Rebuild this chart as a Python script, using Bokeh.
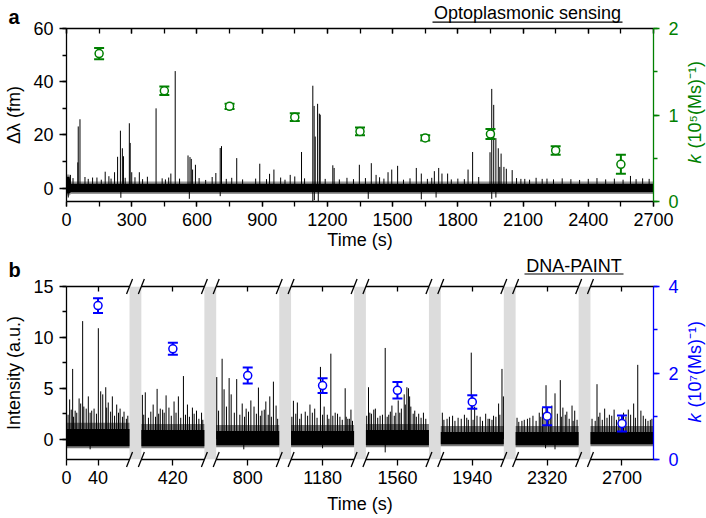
import math
from bokeh.plotting import figure
from bokeh.layouts import column
from bokeh.models import LinearAxis, Range1d, SingleIntervalTicker, FixedTicker
from bokeh.core.properties import value
from bokeh.embed import file_html
from bokeh.resources import INLINE

FONT = "Liberation Sans"
GREEN = "#008000"
BLUE = "#0000ff"
GAP_FILL = "#dcdcdc"

# ---------------- Panel a data (optoplasmonic sensing) ----------------
a_env_t = [0, 14, 20, 2700]
a_env_hi = [4.3, 4.3, 1.7, 1.7]
a_env_lo = [-2.0, -2.0, -1.5, -1.5]

a_spike_t = [54, 62, 52, 18, 120, 178, 221, 235, 248, 257, 262, 289, 293, 300, 335,
             412, 480, 500, 559, 568, 574, 580, 593, 687, 707, 713, 783, 889, 934,
             954, 1029, 1081, 1133, 1139, 1144, 1155, 1163, 1167, 1225, 1231, 1347,
             1402, 1424, 1479, 1496, 1523, 1609, 1632, 1692, 1712, 1727, 1753, 1847,
             1868, 1896, 1948, 1956, 1965, 1975, 1986, 1993, 1999, 2012, 2023, 2050,
             2108, 2188, 2594]
a_spike_v = [23.2, 25.9, 9.7, 5.0, 4.0, 6.2, 6.0, 11.8, 21.6, 15.0, 12.0, 24.4, 17.0, 6.0, 6.0,
             30.0, 5.5, 44.0, 12.3, 11.7, 11.0, 7.0, 8.8, 5.7, 15.1, 15.8, 11.3, 9.2, 5.4,
             7.0, 5.0, 13.6, 38.5, 30.9, 19.4, 31.7, 28.0, 27.6, 8.6, 7.6, 8.8,
             9.4, 5.0, 6.0, 7.0, 8.4, 7.6, 5.5, 6.4, 7.6, 5.5, 5.5, 7.0,
             13.6, 4.2, 13.5, 37.3, 31.3, 18.8, 15.0, 8.0, 13.0, 8.0, 7.3, 6.8,
             3.5, 3.5, 4.6]
a_small_t = [30, 85, 100, 140, 160, 195, 205, 270, 315, 350, 372, 440, 455, 470, 520,
             610, 640, 670, 735, 760, 810, 870, 920, 985, 1005, 1050, 1095, 1190, 1255,
             1290, 1320, 1375, 1440, 1460, 1550, 1580, 1660, 1680, 1770, 1800, 1830,
             2070, 2090, 2130, 2160, 2210, 2240, 2280, 2320, 2360, 2400, 2440, 2480,
             2520, 2560, 2620, 2650, 2680]
a_small_v = [3.8, 4.2, 3.5, 4.0, 3.2, 4.5, 3.6, 3.9, 4.1, 3.4, 4.3, 3.7, 3.3, 4.0, 3.6,
             3.8, 3.1, 4.2, 3.5, 3.9, 3.3, 3.6, 3.4, 4.0, 3.2, 4.4, 3.7, 3.5, 3.3,
             3.9, 3.4, 3.8, 4.1, 3.6, 3.2, 3.7, 3.5, 3.9, 3.3, 3.6, 3.4,
             3.8, 3.5, 3.2, 3.9, 3.6, 3.3, 3.7, 3.4, 3.1, 3.5, 3.8, 3.3,
             3.6, 3.2, 3.4, 3.7, 3.5]
a_dip_t = [8, 250, 565, 707, 1133, 1140, 1158, 1388, 1632, 1700, 1956, 1975]
a_dip_v = [-3.5, -3.6, -4.0, -3.0, -5.0, -4.5, -5.0, -4.0, -4.2, -3.5, -4.0, -3.5]

a_k_t = [150, 450, 750, 1050, 1350, 1650, 1950, 2250, 2550]
a_k = [1.71, 1.28, 1.10, 0.975, 0.81, 0.735, 0.78, 0.59, 0.43]
a_k_err = [0.065, 0.05, 0.03, 0.045, 0.045, 0.03, 0.058, 0.05, 0.11]

# ---------------- Panel b data (DNA-PAINT) ----------------
b_seg_start = [0, 380, 760, 1140, 1520, 1900, 2280, 2660]
b_seg_len = 80
b_gap = 15
b_band_hi = [1.0, 0.9, 0.8, 0.8, 0.9, 0.7, 0.7, 0.7]
b_band_lo = [-0.7, -0.7, -0.6, -0.6, -0.6, -0.5, -0.6, -0.5]

b_spike_t = [4, 7.8, 11, 16, 18, 20.5, 25, 27.7, 30, 35, 40.4, 43.4, 46, 49.8, 53, 58.2, 63.7, 68, 73, 77.8,
             381.3, 385, 389, 395, 400, 404, 409, 411.4, 415, 421.5, 427, 433.4, 438.5, 444.8, 450, 456.4,
             760.7, 767.5, 770, 776.4, 779, 786, 793, 798, 804, 808, 813.6, 818, 823, 828, 832.6, 836,
             1143, 1148, 1153, 1158, 1164, 1170, 1177.3, 1182, 1186, 1190.5, 1196, 1202, 1208.7, 1212, 1216,
             1523.3, 1527, 1530, 1532, 1538, 1544.5, 1549, 1553, 1558, 1561, 1565, 1568.6, 1572, 1574,
             1575.5, 1577, 1580, 1584, 1587, 1593,
             1902, 1908, 1915, 1922, 1930, 1935, 1938.7, 1943, 1950, 1957, 1962, 1967, 1973.4, 1977.7, 1979.5,
             2281.8, 2288, 2295, 2302, 2310, 2314, 2318.6, 2322, 2326, 2330, 2336.7, 2340, 2345, 2351.6, 2355,
             2668.3, 2672, 2678, 2684, 2690, 2696, 2702, 2708, 2714.8, 2720, 2724, 2730, 2736]
b_spike_v = [3.9, 6.9, 2.8, 4.0, 3.5, 11.6, 3.0, 4.2, 2.6, 3.0, 10.9, 4.7, 4.4, 5.1, 3.6, 4.2, 3.4, 3.0, 2.7, 2.3,
             4.35, 4.6, 2.1, 3.4, 4.94, 3.0, 2.6, 4.3, 3.1, 3.7, 4.2, 6.2, 3.4, 3.1, 2.8, 2.6,
             6.1, 7.9, 4.9, 6.0, 4.4, 5.9, 3.5, 3.0, 3.8, 3.2, 5.07, 2.8, 3.7, 4.2, 5.65, 3.3,
             3.77, 3.6, 2.5, 2.7, 3.4, 3.0, 7.1, 3.2, 2.4, 8.4, 2.6, 2.2, 5.0, 2.0, 2.9,
             5.1, 2.5, 2.9, 3.0, 2.3, 8.96, 2.4, 3.3, 2.6, 3.8, 3.0, 4.4, 5.1, 5.0,
             4.2, 3.2, 2.5, 2.2, 2.5, 2.6,
             2.6, 2.0, 2.3, 2.1, 2.4, 1.9, 8.5, 3.2, 2.2, 2.5, 2.0, 2.3, 3.5, 6.9, 4.2,
             2.1, 1.8, 2.0, 2.3, 2.6, 3.1, 5.3, 2.4, 3.3, 4.5, 5.8, 3.1, 2.7, 3.3, 2.8,
             5.4, 2.6, 3.0, 2.4, 2.9, 2.2, 2.6, 2.9, 3.5, 7.3, 2.8, 2.0, 1.9]
b_small_t = [2, 6, 9, 13, 22, 32, 38, 51, 56, 61, 66, 71, 76,
             383, 392, 398, 402, 407, 418, 424, 430, 436, 441, 447, 453, 458,
             763, 773, 783, 790, 796, 801, 811, 816, 821, 826, 830, 838,
             1141, 1146, 1151, 1161, 1167, 1173, 1180, 1188, 1193, 1199, 1205, 1210, 1214, 1218,
             1521, 1525, 1535, 1541, 1547, 1551, 1556, 1563, 1570, 1582, 1590, 1596,
             1904, 1911, 1918, 1926, 1933, 1941, 1946, 1953, 1960, 1965, 1970, 1975,
             2284, 2291, 2298, 2306, 2312, 2316, 2324, 2333, 2338, 2343, 2348, 2353, 2358,
             2662, 2666, 2670, 2675, 2681, 2687, 2693, 2699, 2705, 2711, 2717, 2727, 2733, 2738]
b_small_v = [2.4, 2.9, 2.2, 2.6, 3.2, 2.8, 2.5, 3.1, 2.7, 2.3, 2.6, 2.2, 2.0,
             2.4, 2.7, 2.2, 2.5, 2.9, 2.3, 2.6, 2.1, 2.4, 2.2, 2.5, 2.0, 1.9,
             2.8, 3.2, 2.6, 2.4, 2.2, 2.7, 2.5, 2.3, 2.9, 2.4, 2.2, 2.0,
             2.2, 2.5, 2.0, 2.3, 2.6, 2.1, 2.4, 2.0, 2.3, 2.5, 1.9, 2.2, 2.0, 1.8,
             2.3, 2.6, 2.1, 2.4, 2.2, 2.7, 2.3, 2.6, 3.4, 2.8, 2.1, 2.0,
             1.9, 2.2, 1.8, 2.0, 2.1, 1.9, 2.3, 1.8, 2.0, 1.9, 2.2, 2.4,
             1.7, 1.9, 2.1, 1.8, 2.2, 2.6, 2.0, 2.5, 2.2, 2.4, 2.0, 1.8, 1.9,
             2.0, 1.8, 2.2, 1.9, 2.1, 2.3, 1.9, 2.0, 2.2, 2.4, 2.1, 2.3, 1.8, 2.0]
b_dip_t = [30, 795, 1180, 1544.5, 2318, 2330]
b_dip_v = [-1.0, -1.0, -0.9, -1.3, -0.9, -1.0]

b_k_t = [40, 420, 800, 1180, 1560, 1940, 2320, 2700]
b_k = [3.56, 2.56, 1.94, 1.71, 1.60, 1.33, 1.00, 0.83]
b_k_err = [0.17, 0.14, 0.185, 0.17, 0.19, 0.155, 0.21, 0.185]
b_tick_labels = [0, 40, 420, 800, 1180, 1560, 1940, 2320, 2700]

# ---------------- layout constants ----------------
W = 706
BL, BR = 66, 53
FW = W - BL - BR
FH = 173
A_H, A_T = 254, 28
B_H, B_T = 264, 32
FS = "18px"


def style(ax, color="black", out=5, inn=0, mout=3, minn=0, labels=True, lstand=6, astand=5):
    ax.axis_line_color = color
    ax.axis_line_width = 1.3
    ax.major_tick_line_color = color
    ax.minor_tick_line_color = color
    ax.major_tick_line_width = 1.3
    ax.minor_tick_line_width = 1.3
    ax.major_tick_out = out
    ax.major_tick_in = inn
    ax.minor_tick_out = mout
    ax.minor_tick_in = minn
    ax.major_label_text_font = FONT
    if labels:
        ax.major_label_text_color = color
        ax.major_label_text_font_size = FS
        ax.major_label_standoff = lstand
    else:
        ax.major_label_text_color = None
        ax.major_label_text_font_size = "0px"
        ax.major_label_standoff = 0
    ax.axis_label_text_font = FONT
    ax.axis_label_text_font_size = FS
    ax.axis_label_text_font_style = "normal"
    ax.axis_label_text_color = color
    ax.axis_label_standoff = astand


def make_fig(h, top, xr, yr):
    p = figure(width=W, height=h, x_range=xr, y_range=yr, output_backend="svg",
               toolbar_location=None, title=None,
               min_border_left=BL, min_border_right=BR, min_border_top=top,
               min_border_bottom=h - top - FH)
    p.xgrid.visible = False
    p.ygrid.visible = False
    p.outline_line_color = None
    p.background_fill_color = "white"
    p.border_fill_color = "white"
    return p


def to_data(x0, x1, y0, y1, ftop):
    # canvas pixel -> data helper (frame starts at x=BL, y=ftop)
    def f(px, py):
        return (x0 + (px - BL) * (x1 - x0) / FW,
                y0 + (ftop + FH - py) * (y1 - y0) / FH)
    return f


def add_text(p, x, y, txt, size=FS, style="normal", color="black", align="left", angle=0.0):
    p.text(x=[x], y=[y], text=[txt], text_font=value(FONT), text_font_size=value(size),
           text_font_style=value(style), text_color=color, text_align=value(align),
           text_baseline=value("middle"), angle=angle, level="overlay")


# ================= Panel a =================
pa = make_fig(A_H, A_T, Range1d(0, 2700), Range1d(-5, 60))
pa.extra_y_ranges = {"k": Range1d(0, 2)}

xa = pa.xaxis[0]
xa.ticker = SingleIntervalTicker(interval=300, num_minor_ticks=2)
xa.axis_label = "Time (s)"
style(xa, out=5, mout=5, lstand=6, astand=1)
ya = pa.yaxis[0]
ya.ticker = SingleIntervalTicker(interval=20, num_minor_ticks=2)
ya.axis_label = "Δλ (fm)"
style(ya, out=7, mout=4, lstand=6, astand=6)
ta = LinearAxis(ticker=SingleIntervalTicker(interval=300, num_minor_ticks=2))
style(ta, out=0, inn=5, mout=0, minn=5, labels=False)
pa.add_layout(ta, "above")
ra = LinearAxis(y_range_name="k", ticker=SingleIntervalTicker(interval=1, num_minor_ticks=2))
style(ra, color=GREEN, out=6, mout=4, lstand=9)
pa.add_layout(ra, "right")

pa.varea(x=a_env_t, y1=[v - 0.7 for v in a_env_lo], y2=[v + 0.8 for v in a_env_hi],
         fill_color="#555555", fill_alpha=0.6)
pa.varea(x=a_env_t, y1=a_env_lo, y2=a_env_hi, fill_color="black")
pa.segment(x0=a_small_t, y0=[0] * len(a_small_t), x1=a_small_t, y1=a_small_v,
           line_color="black", line_width=1)
pa.segment(x0=a_spike_t, y0=[0] * len(a_spike_t), x1=a_spike_t, y1=a_spike_v,
           line_color="black", line_width=1)
pa.segment(x0=a_dip_t, y0=[0] * len(a_dip_t), x1=a_dip_t, y1=a_dip_v,
           line_color="black", line_width=1)

a_lo = [k - e for k, e in zip(a_k, a_k_err)]
a_hi = [k + e for k, e in zip(a_k, a_k_err)]
pa.segment(x0=a_k_t, y0=a_lo, x1=a_k_t, y1=a_hi, line_color=GREEN, line_width=2, y_range_name="k")
pa.scatter(x=a_k_t + a_k_t, y=a_lo + a_hi, marker="dash", size=10, line_color=GREEN,
           line_width=2, y_range_name="k")
pa.scatter(x=a_k_t, y=a_k, marker="circle", size=8, fill_color="white", line_color=GREEN,
           line_width=1.5, y_range_name="k")

fa = to_data(0, 2700, -5, 60, A_T)
add_text(pa, *fa(8, 16.4), "a", size="20px", style="bold")
add_text(pa, *fa(527, 12.3), "Optoplasmonic sensing", align="center")
ux0, uy = fa(432, 21.7)
ux1, _ = fa(622, 21.7)
pa.segment(x0=[ux0], y0=[uy], x1=[ux1], y1=[uy], line_color="black", line_width=1.2, level="overlay")
add_text(pa, *fa(694, 163), "k", style="italic", color=GREEN, angle=math.pi / 2)
add_text(pa, *fa(694, 148), "(10⁵(Ms)⁻¹)", color=GREEN, angle=math.pi / 2)

# ================= Panel b =================
def disp(t):
    k = max(i for i, s in enumerate(b_seg_start) if s <= t)
    return t - b_seg_start[k] + k * (b_seg_len + b_gap)

b_total = disp(b_seg_start[-1]) + b_seg_len
pb = make_fig(B_H, B_T, Range1d(0, b_total), Range1d(-2, 15))
pb.extra_y_ranges = {"k": Range1d(0, 4)}

tick_pos = [disp(t) for t in b_tick_labels]
xb = pb.xaxis[0]
xb.ticker = FixedTicker(ticks=tick_pos, minor_ticks=[])
xb.major_label_overrides = {d: str(t) for d, t in zip(tick_pos, b_tick_labels)}
xb.axis_label = "Time (s)"
style(xb, out=6, mout=0, lstand=5, astand=7)
xb.axis_line_color = None
yb = pb.yaxis[0]
yb.ticker = SingleIntervalTicker(interval=5, num_minor_ticks=2)
yb.axis_label = "Intensity (a.u.)"
style(yb, out=7, mout=4, lstand=6, astand=6)
tb = LinearAxis(ticker=FixedTicker(ticks=tick_pos[1:], minor_ticks=[]))
style(tb, out=0, inn=5, mout=0, minn=0, labels=False)
tb.axis_line_color = None
pb.add_layout(tb, "above")
rb = LinearAxis(y_range_name="k", ticker=SingleIntervalTicker(interval=2, num_minor_ticks=2))
style(rb, color=BLUE, out=6, mout=4, lstand=9)
pb.add_layout(rb, "right")

seg_l = [disp(s) for s in b_seg_start]
seg_r = [d + b_seg_len for d in seg_l]
gap_l = seg_r[:-1]
gap_r = seg_l[1:]
pb.quad(left=gap_l, right=gap_r, bottom=-2, top=15, fill_color=GAP_FILL, line_color=None,
        level="underlay")
pb.quad(left=seg_l, right=seg_r, bottom=[v - 0.2 for v in b_band_lo],
        top=[v + 0.6 for v in b_band_hi], fill_color="#444444", fill_alpha=0.7, line_color=None)
pb.quad(left=seg_l, right=seg_r, bottom=b_band_lo, top=b_band_hi, fill_color="black",
        line_color=None)
bsx = [disp(t) for t in b_small_t]
pb.segment(x0=bsx, y0=[0] * len(bsx), x1=bsx, y1=b_small_v, line_color="black", line_width=1)
bx = [disp(t) for t in b_spike_t]
pb.segment(x0=bx, y0=[0] * len(bx), x1=bx, y1=b_spike_v, line_color="black", line_width=1)
bdx = [disp(t) for t in b_dip_t]
pb.segment(x0=bdx, y0=[0] * len(bdx), x1=bdx, y1=b_dip_v, line_color="black", line_width=1)

bkx = [disp(t) for t in b_k_t]
b_lo = [k - e for k, e in zip(b_k, b_k_err)]
b_hi = [k + e for k, e in zip(b_k, b_k_err)]
pb.segment(x0=bkx, y0=b_lo, x1=bkx, y1=b_hi, line_color=BLUE, line_width=2, y_range_name="k")
pb.scatter(x=bkx + bkx, y=b_lo + b_hi, marker="dash", size=10, line_color=BLUE,
           line_width=2, y_range_name="k")
pb.scatter(x=bkx, y=b_k, marker="circle", size=8, fill_color="white", line_color=BLUE,
           line_width=1.5, y_range_name="k")

# broken top / bottom axis lines with slashes
ylo, yhi = -2, 15
pb.segment(x0=seg_l + seg_l, y0=[ylo] * len(seg_l) + [yhi] * len(seg_l),
           x1=seg_r + seg_r, y1=[ylo] * len(seg_l) + [yhi] * len(seg_l),
           line_color="black", line_width=1.3, level="overlay")
dx = 3 * b_total / FW
dy = 7.5 * 17 / FH
sx = gap_l + gap_r
pb.segment(x0=[s - dx for s in sx] * 2, y0=[ylo - dy] * len(sx) + [yhi - dy] * len(sx),
           x1=[s + dx for s in sx] * 2, y1=[ylo + dy] * len(sx) + [yhi + dy] * len(sx),
           line_color="black", line_width=1.3, level="overlay")

fb = to_data(0, b_total, -2, 15, B_T)
add_text(pb, *fb(8, B_T - 16.3), "b", size="20px", style="bold")
add_text(pb, *fb(573.5, B_T - 20.5), "DNA-PAINT", align="center")
vx0, vy = fb(524, B_T - 12.5)
vx1, _ = fb(623, B_T - 12.5)
pb.segment(x0=[vx0], y0=[vy], x1=[vx1], y1=[vy], line_color="black", line_width=1.2, level="overlay")
add_text(pb, *fb(694, B_T + 136), "k", style="italic", color=BLUE, angle=math.pi / 2)
add_text(pb, *fb(694, B_T + 121), "(10⁷(Ms)⁻¹)", color=BLUE, angle=math.pi / 2)

layout = column(pa, pb, spacing=0)
open("out.html", "w").write(file_html(layout, INLINE))
